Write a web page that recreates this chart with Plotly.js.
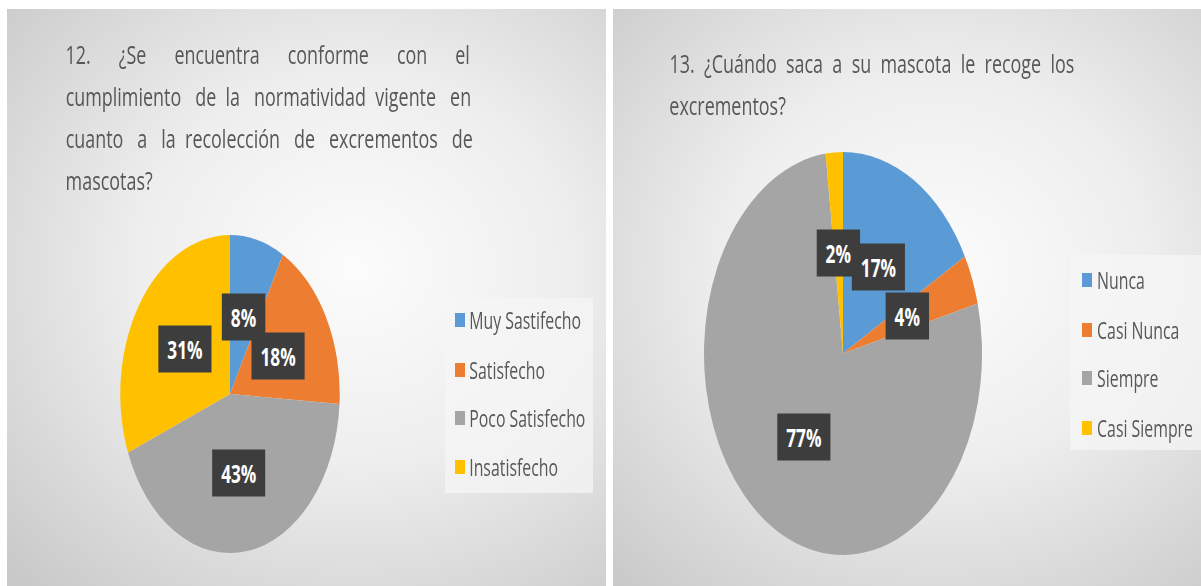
<!DOCTYPE html>
<html>
<head>
<meta charset="utf-8">
<script src="https://cdn.plot.ly/plotly-3.0.1.min.js"></script>
<style>
  html, body { margin: 0; padding: 0; background: #ffffff; }
  #wrap { position: relative; width: 1201px; height: 586px; overflow: hidden; background: #ffffff; }
  .panel { position: absolute; top: 9px; height: 577px; }
  #p1 { left: 7px; width: 599px;
        background: radial-gradient(ellipse 80% 75% at 58% 45%, #fcfcfc 0%, #eeeeee 45%, #c9c9c9 100%); }
  #p2 { left: 613px; width: 588px;
        background: radial-gradient(ellipse 80% 75% at 55% 45%, #fcfcfc 0%, #eeeeee 45%, #c9c9c9 100%); }
  #chart { position: absolute; left: 0; top: 0; width: 1741px; height: 586px;
           transform: scaleX(0.69); transform-origin: 0 0; }
</style>
</head>
<body>
<div id="wrap">
  <div class="panel" id="p1"></div>
  <div class="panel" id="p2"></div>
  <div id="chart"></div>
</div>
<script>
// ---- data ----
const q12Title = ['12. ¿Se encuentra conforme con el',
                  'cumplimiento de la normatividad vigente en',
                  'cuanto a la recolección de excrementos de',
                  'mascotas?'];
const q12Labels = ['Muy Sastifecho', 'Satisfecho', 'Poco Satisfecho', 'Insatisfecho'];
const q12Values = [8, 18, 43, 31];

const q13Title = ['13. ¿Cuándo saca a su mascota le recoge los',
                  'excrementos?'];
const q13Labels = ['Nunca', 'Casi Nunca', 'Siempre', 'Casi Siempre'];
const q13Values = [17, 4, 77, 2];

const sliceColors = ['#5B9BD5', '#ED7D31', '#A5A5A5', '#FFC000'];

// ---- geometry helpers (final picture px -> paper) ----
const S = 0.69, W = 1741, H = 586;
const px = x => x / S / W;
const py = y => 1 - y / H;

function pieDomain(cx, cy, R) {
  return { x: [(cx / S - R) / W, (cx / S + R) / W], y: [1 - (cy + R) / H, 1 - (cy - R) / H] };
}

const TITLE_SIZE = 26;
const ctx = document.createElement('canvas').getContext('2d');
function justify(line, widthFinal, font) {
  ctx.font = font;
  const words = line.split(' ');
  const target = widthFinal / S;
  let ww = 0; words.forEach(w => ww += ctx.measureText(w).width);
  const sp = ctx.measureText('\u00A0').width;
  const gaps = words.length - 1;
  const total = Math.max(gaps, (target - ww) / sp);
  let out = words[0];
  for (let i = 0; i < gaps; i++) {
    const n = Math.max(1, Math.round((i + 1) * total / gaps) - Math.round(i * total / gaps));
    out += '\u00A0'.repeat(n) + words[i + 1];
  }
  return out;
}

const FONT = 'Open Sans, Arial, sans-serif';
const titleColor = '#575757';
const annotations = [];
const shapes = [];

function addTitle(lines, x0, x1, centers) {
  lines.forEach((ln, i) => {
    const txt = (i < lines.length - 1) ? justify(ln, x1 - x0, TITLE_SIZE + "px 'Open Sans'") : ln;
    annotations.push({ text: txt, xref: 'paper', yref: 'paper', x: px(x0), y: py(centers[i]),
      xanchor: 'left', yanchor: 'middle', showarrow: false,
      font: { family: FONT, size: TITLE_SIZE, color: titleColor } });
  });
}
addTitle(q12Title, 64, 470, [54, 96, 138, 180]);
addTitle(q13Title, 668, 1073, [63, 105]);

function addLabels(values, cx, cy, R) {
  const sum = values.reduce((a, b) => a + b, 0);
  let cum = 0;
  values.forEach(v => {
    const mid = (cum + v / 2) / sum * 2 * Math.PI;
    cum += v;
    const xu = cx / S + 0.5 * R * Math.sin(mid);
    const yu = cy - 0.5 * R * Math.cos(mid);
    annotations.push({ text: '\u00A0' + Math.round(v / sum * 100) + '%\u00A0',
      xref: 'paper', yref: 'paper', x: xu / W, y: 1 - yu / H,
      xanchor: 'center', yanchor: 'middle', showarrow: false,
      bgcolor: '#3d3d3d', borderpad: 6,
      font: { family: FONT, size: 25, color: '#ffffff', weight: 'bold' } });
  });
}

function addLegend(labels, box, symX, textX, centers) {
  shapes.push({ type: 'rect', xref: 'paper', yref: 'paper', layer: 'below',
    x0: px(box[0]), x1: px(box[2]), y0: py(box[3]), y1: py(box[1]),
    fillcolor: 'rgba(245,245,245,0.75)', line: { width: 0 } });
  labels.forEach((lb, i) => {
    shapes.push({ type: 'rect', xref: 'paper', yref: 'paper',
      x0: px(symX), x1: px(symX + 10), y0: py(centers[i] + 7), y1: py(centers[i] - 7),
      fillcolor: sliceColors[i], line: { width: 0 } });
    annotations.push({ text: lb, xref: 'paper', yref: 'paper', x: px(textX), y: py(centers[i]),
      xanchor: 'left', yanchor: 'middle', showarrow: false,
      font: { family: FONT, size: 23, color: titleColor } });
  });
}

const L = { cx: 230, cy: 394, R: 159 };
const Rp = { cx: 843, cy: 353.5, R: 201.5 };

addLabels(q12Values, L.cx, L.cy, L.R);
addLabels(q13Values, Rp.cx, Rp.cy, Rp.R);
addLegend(q12Labels, [445, 298, 593, 493], 455, 468, [320, 370, 418, 467]);
addLegend(q13Labels, [1070, 255, 1201, 450], 1082, 1096, [280, 330, 378, 428]);

const traces = [
  { type: 'pie', values: q12Values, labels: q12Labels, sort: false, direction: 'clockwise',
    rotation: 0, textinfo: 'none', showlegend: false, hoverinfo: 'label+percent',
    marker: { colors: sliceColors, line: { width: 0 } }, domain: pieDomain(L.cx, L.cy, L.R) },
  { type: 'pie', values: q13Values, labels: q13Labels, sort: false, direction: 'clockwise',
    rotation: 0, textinfo: 'none', showlegend: false, hoverinfo: 'label+percent',
    marker: { colors: sliceColors, line: { width: 0 } }, domain: pieDomain(Rp.cx, Rp.cy, Rp.R) }
];

const layout = {
  width: W, height: H,
  margin: { l: 0, r: 0, t: 0, b: 0 },
  paper_bgcolor: 'rgba(0,0,0,0)', plot_bgcolor: 'rgba(0,0,0,0)',
  showlegend: false,
  annotations: annotations,
  shapes: shapes,
  font: { family: FONT }
};

Plotly.newPlot('chart', traces, layout, { displayModeBar: false, staticPlot: true });
</script>
</body>
</html>
